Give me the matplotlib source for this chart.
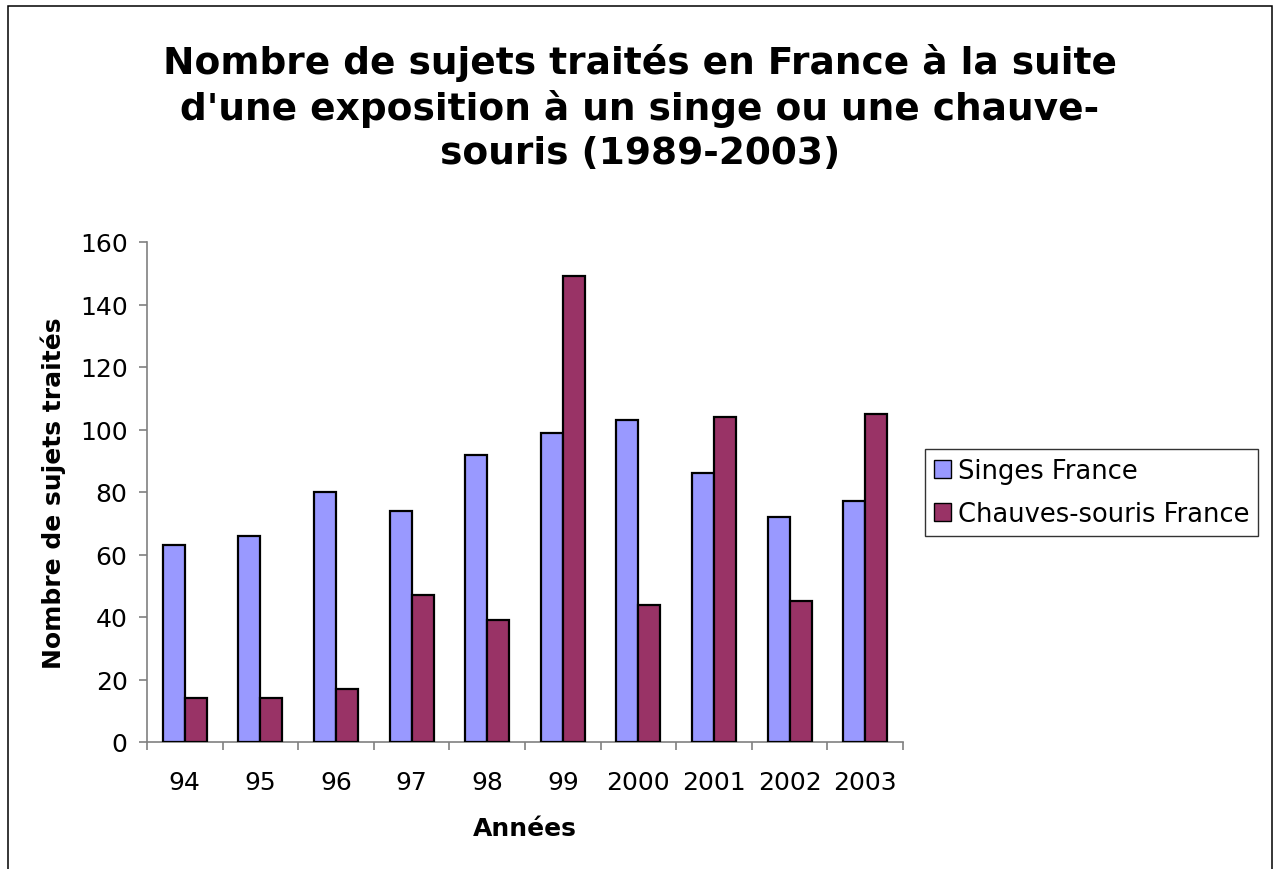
import numpy as np
import matplotlib
matplotlib.use("Agg")
import matplotlib.pyplot as plt
from matplotlib.patches import Rectangle

annees = ["94", "95", "96", "97", "98", "99", "2000", "2001", "2002", "2003"]
singes = [63, 66, 80, 74, 92, 99, 103, 86, 72, 77]
chauves_souris = [14, 14, 17, 47, 39, 149, 44, 104, 45, 105]

plt.rcParams["font.family"] = ["DejaVu Sans"]

W, H = 1275, 870
fig = plt.figure(figsize=(W / 100, H / 100), dpi=100)
ax = fig.add_axes([147 / W, 1 - 743 / H, (903 - 147) / W, 500 / H])

x = np.arange(len(annees))
w = 0.29
ax.bar(x - w / 2, singes, w, color="#9999FF", edgecolor="black", linewidth=1.6,
       label="Singes France", zorder=3)
ax.bar(x + w / 2, chauves_souris, w, color="#993366", edgecolor="black", linewidth=1.6,
       label="Chauves-souris France", zorder=3)

ax.set_xlim(-0.5, len(annees) - 0.5)
ax.set_ylim(0, 160)
ax.set_yticks(range(0, 161, 20))
ax.set_xticks(x)
ax.set_xticklabels(annees)
ax.set_xticks(np.arange(-0.5, len(annees), 1), minor=True)
ax.tick_params(axis="x", which="major", length=0, labelsize=18, pad=20)
ax.tick_params(axis="x", which="minor", length=6, direction="out", color="#808080", width=1.2)
ax.tick_params(axis="y", length=6, direction="out", color="#808080", width=1.2, labelsize=18, pad=8)

for s in ("top", "right"):
    ax.spines[s].set_visible(False)
for s in ("left", "bottom"):
    ax.spines[s].set_color("#808080")
    ax.spines[s].set_linewidth(1.2)

ax.set_xlabel("Années", fontsize=18, fontweight="bold", labelpad=16)
ax.set_ylabel("Nombre de sujets traités", fontsize=18, fontweight="bold", labelpad=10)

fig.text(0.502, 1 - 108 / H,
         "Nombre de sujets traités en France à la suite\n"
         "d'une exposition à un singe ou une chauve-\n"
         "souris (1989-2003)",
         ha="center", va="center", fontsize=27, fontweight="bold", linespacing=1.27)

leg = ax.legend(loc="center left", bbox_to_anchor=(925 / W, 1 - 493.5 / H),
                bbox_transform=fig.transFigure, fontsize=18.5, frameon=True,
                fancybox=False, edgecolor="black", handlelength=0.68, handleheight=0.68,
                handletextpad=0.27, borderpad=0.34, labelspacing=0.68, borderaxespad=0)
leg.get_frame().set_linewidth(1.0)
for h in leg.legend_handles:
    h.set_linewidth(1.0)

fig.patches.append(Rectangle((8 / W, -0.01), (1272 - 8) / W, 1 - 7 / H + 0.01,
                             transform=fig.transFigure, fill=False,
                             edgecolor="black", linewidth=1.1))

fig.savefig("out.png", dpi=100)
